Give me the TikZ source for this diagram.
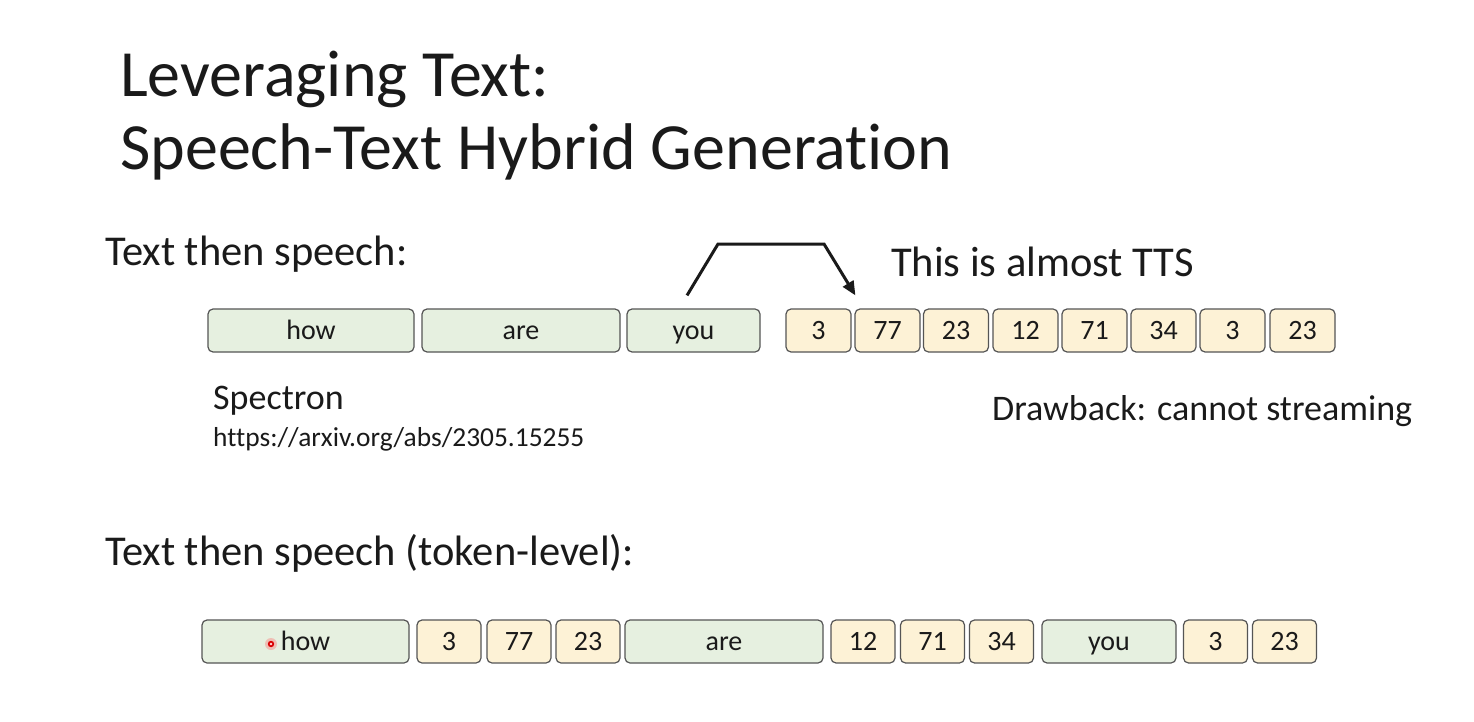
\documentclass[tikz,border=0pt]{standalone}
\usepackage{fontspec}
\setmainfont[Ligatures=NoCommon]{Carlito}
\usetikzlibrary{arrows.meta,calc}
\definecolor{wordfill}{HTML}{E6F0E0}
\definecolor{unitfill}{HTML}{FDF2D6}
\definecolor{boxline}{HTML}{555555}
\definecolor{inkcol}{HTML}{1A1A1A}
\tikzset{
  lbl/.style={anchor=base west, inner sep=0pt, text=inkcol},
  tok/.style={draw=boxline, line width=1.2pt, rounded corners=5pt,
    minimum height=43pt, inner sep=0pt, text=inkcol,
    text height=17.5pt, text depth=0pt,
    font=\fontsize{28}{28}\selectfont},
  word/.style={tok, fill=wordfill},
  unit/.style={tok, fill=unitfill, minimum width=65pt},
  pointer/.style={line width=3pt, draw=inkcol}
}
\begin{document}
\begin{tikzpicture}[x=1pt, y=-1pt]
\useasboundingbox (0,0) rectangle (1474,722);
\fill[white] (0,0) rectangle (1474,722);

% title
\node[lbl, font=\fontsize{66}{66}\selectfont] (t1) at (120,97) {Leveraging Text:};
\node[lbl, font=\fontsize{66}{66}\selectfont] (t2) at (120,170) {Speech-Text Hybrid Generation};

% first scheme: text then speech
\node[lbl, font=\fontsize{42.5}{42.5}\selectfont] (h1) at (105,265) {Text then speech:};
\node[lbl, font=\fontsize{42.5}{42.5}\selectfont] (tts) at (891,276) {This is almost TTS};

\node[word, minimum width=206pt] (a1) at (311,330.5) {how};
\node[word, minimum width=198pt] (a2) at (521,330.5) {are};
\node[word, minimum width=133pt] (a3) at (693.5,330.5) {you};
\node[unit] (b1) at (818.5,330.5) {3};
\node[unit] (b2) at (887.5,330.5) {77};
\node[unit] (b3) at (956,330.5) {23};
\node[unit] (b4) at (1025.5,330.5) {12};
\node[unit] (b5) at (1094.5,330.5) {71};
\node[unit] (b6) at (1163.5,330.5) {34};
\node[unit] (b7) at (1232.5,330.5) {3};
\node[unit] (b8) at (1302.5,330.5) {23};

% bracket arrow from the text part to the speech part
\coordinate (pS) at ($(a3.north)+(-6.5,-13)$);
\coordinate (pE) at ($(b2.north west)+(1,-13)$);
\draw[pointer, -{Triangle[length=14pt, width=12pt]}]
  (pS) -- (718,244) -- (824,244) -- (pE);

\node[lbl, font=\fontsize{36}{36}\selectfont] (sp) at (213,409) {Spectron};
\node[lbl, font=\fontsize{27.4}{27.4}\selectfont] (url) at (213,446) {https://arxiv.org/abs/2305.15255};
\node[lbl, font=\fontsize{36}{36}\selectfont] (dw) at (992,420) {Drawback: cannot streaming};

% second scheme: token-level interleaving
\node[lbl, font=\fontsize{42.5}{42.5}\selectfont] (h2) at (105,565) {Text then speech (token-level):};

\node[word, minimum width=207pt] (c1) at (305.5,641.5) {how};
\node[unit, minimum width=64pt] (c2) at (449,641.5) {3};
\node[unit, minimum width=64pt] (c3) at (519,641.5) {77};
\node[unit, minimum width=64pt] (c4) at (588,641.5) {23};
\node[word, minimum width=198pt] (c5) at (724,641.5) {are};
\node[unit, minimum width=64pt] (c6) at (863,641.5) {12};
\node[unit, minimum width=64pt] (c7) at (932.5,641.5) {71};
\node[unit, minimum width=64pt] (c8) at (1001.5,641.5) {34};
\node[word, minimum width=134pt] (c9) at (1109,641.5) {you};
\node[unit, minimum width=64pt] (c10) at (1215.5,641.5) {3};
\node[unit, minimum width=64pt] (c11) at (1284.5,641.5) {23};

% pointer dot
\fill[red!60!white, opacity=0.35] (271,644) circle (6pt);
\fill[red!85!black] (271,644) circle (3.2pt);
\fill[pink!60!white] (271,644) circle (1.3pt);
\end{tikzpicture}
\end{document}
